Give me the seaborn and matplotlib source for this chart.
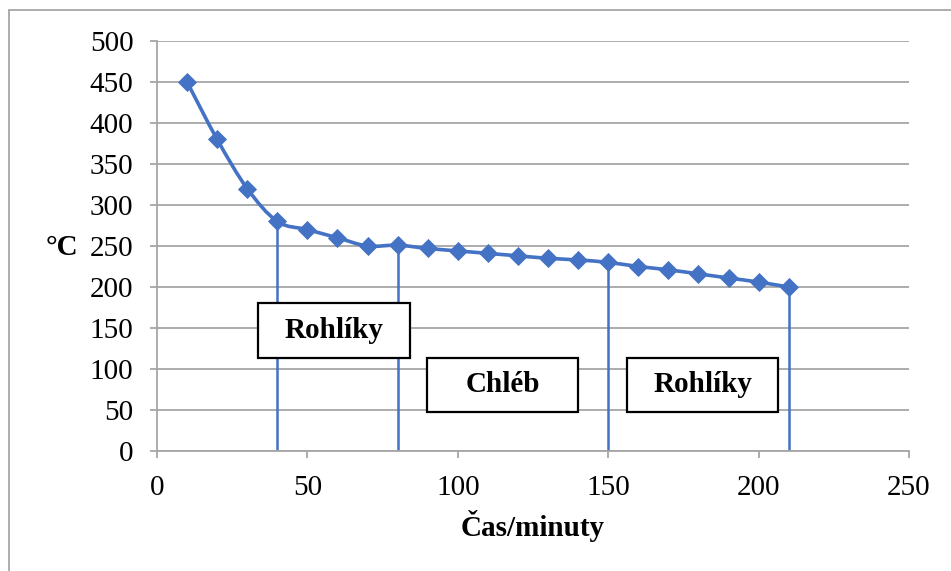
import numpy as np
import pandas as pd
import matplotlib
matplotlib.use("Agg")
import matplotlib.pyplot as plt
import seaborn as sns
from matplotlib.path import Path
from matplotlib.patches import PathPatch, Rectangle
from matplotlib.lines import Line2D

# Oven temperature over the baking time
minutes = [10, 20, 30, 40, 50, 60, 70, 80, 90, 100, 110,
           120, 130, 140, 150, 160, 170, 180, 190, 200, 210]
temperature = [450, 380, 320, 280, 270, 260, 250, 251, 247, 244, 241,
               238, 235, 233, 230, 225, 221, 216, 211, 206, 200]

# Moments where a batch goes in / comes out
batch_marks = [40, 80, 150, 210]

# Batch labels
batch_labels = ["Rohlíky", "Chléb", "Rohlíky"]

df = pd.DataFrame({"minutes": minutes, "temperature": temperature})

sns.set_theme(style="white")
plt.rcParams["font.family"] = ["Liberation Serif", "DejaVu Serif"]
plt.rcParams["text.color"] = "black"

W, H = 951, 571
fig = plt.figure(figsize=(W / 100, H / 100), dpi=100)
ax = fig.add_axes([157 / W, 1 - 451 / H, (909 - 157) / W, (451 - 41) / H])

blue = "#4472C4"
grid_grey = "#A6A6A6"

# smooth connecting curve (cubic Bezier segments through the points)
xs = np.array(minutes, float)
ys = np.array(temperature, float)
verts = [(xs[0], ys[0])]
codes = [Path.MOVETO]
t = 1 / 6
for i in range(len(xs) - 1):
    p0 = (xs[i - 1], ys[i - 1]) if i > 0 else (xs[i], ys[i])
    p1 = (xs[i], ys[i])
    p2 = (xs[i + 1], ys[i + 1])
    p3 = (xs[i + 2], ys[i + 2]) if i + 2 < len(xs) else p2
    c1 = (p1[0] + (p2[0] - p0[0]) * t, p1[1] + (p2[1] - p0[1]) * t)
    c2 = (p2[0] - (p3[0] - p1[0]) * t, p2[1] - (p3[1] - p1[1]) * t)
    verts += [c1, c2, p2]
    codes += [Path.CURVE4] * 3
ax.add_patch(PathPatch(Path(verts, codes), facecolor="none",
                       edgecolor=blue, lw=2.6, zorder=3))

# vertical drop lines from the curve to the axis
for m in batch_marks:
    ax.plot([m, m], [0, temperature[minutes.index(m)]],
            color=blue, lw=1.8, zorder=2)

# markers
sns.scatterplot(data=df, x="minutes", y="temperature", marker="D",
                s=95, color=blue, edgecolor=blue, linewidth=0,
                zorder=4, ax=ax, legend=False)

# batch label boxes (x0, x1, y0, y1 in data units)
boxes = [(33.6, 84.1, 113.4, 180.5),
         (89.8, 140.0, 47.6, 113.4),
         (156.3, 206.4, 47.6, 113.4)]
for (x0, x1, y0, y1), lab in zip(boxes, batch_labels):
    ax.add_patch(Rectangle((x0, y0), x1 - x0, y1 - y0, facecolor="white",
                           edgecolor="black", lw=1.6, zorder=5))
    ax.text((x0 + x1) / 2, (y0 + y1) / 2, lab, ha="center", va="center",
            fontsize=21, fontweight="bold", color="black", zorder=6)

ax.set_xlim(0, 250)
ax.set_ylim(0, 500)
ax.set_xticks(range(0, 251, 50))
ax.set_yticks(range(0, 501, 50))
ax.yaxis.grid(True, color=grid_grey, lw=1.3)
ax.xaxis.grid(False)
for side in ["top", "right"]:
    ax.spines[side].set_visible(False)
for side in ["left", "bottom"]:
    ax.spines[side].set_color(grid_grey)
    ax.spines[side].set_linewidth(1.3)
ax.tick_params(axis="both", which="major", direction="out", length=5,
               width=1.3, color=grid_grey, labelsize=21, labelcolor="black",
               bottom=True, left=True)
ax.tick_params(axis="y", pad=12)
ax.tick_params(axis="x", pad=12)
ax.set_xlabel("Čas/minuty", fontsize=21, fontweight="bold", labelpad=7,
              color="black")
ax.set_ylabel("")
fig.text(62 / W, 1 - 248 / H, "°C", ha="center", va="center",
         fontsize=21, fontweight="bold", color="black")

# outer chart border (top and left edges)
fig.add_artist(Line2D([8.5 / W, 1.0], [1 - 10 / H, 1 - 10 / H],
                      transform=fig.transFigure, color="#A0A0A0", lw=1.2))
fig.add_artist(Line2D([8.5 / W, 8.5 / W], [0, 1 - 10 / H],
                      transform=fig.transFigure, color="#A0A0A0", lw=1.2))

fig.savefig("out.png", dpi=100)
